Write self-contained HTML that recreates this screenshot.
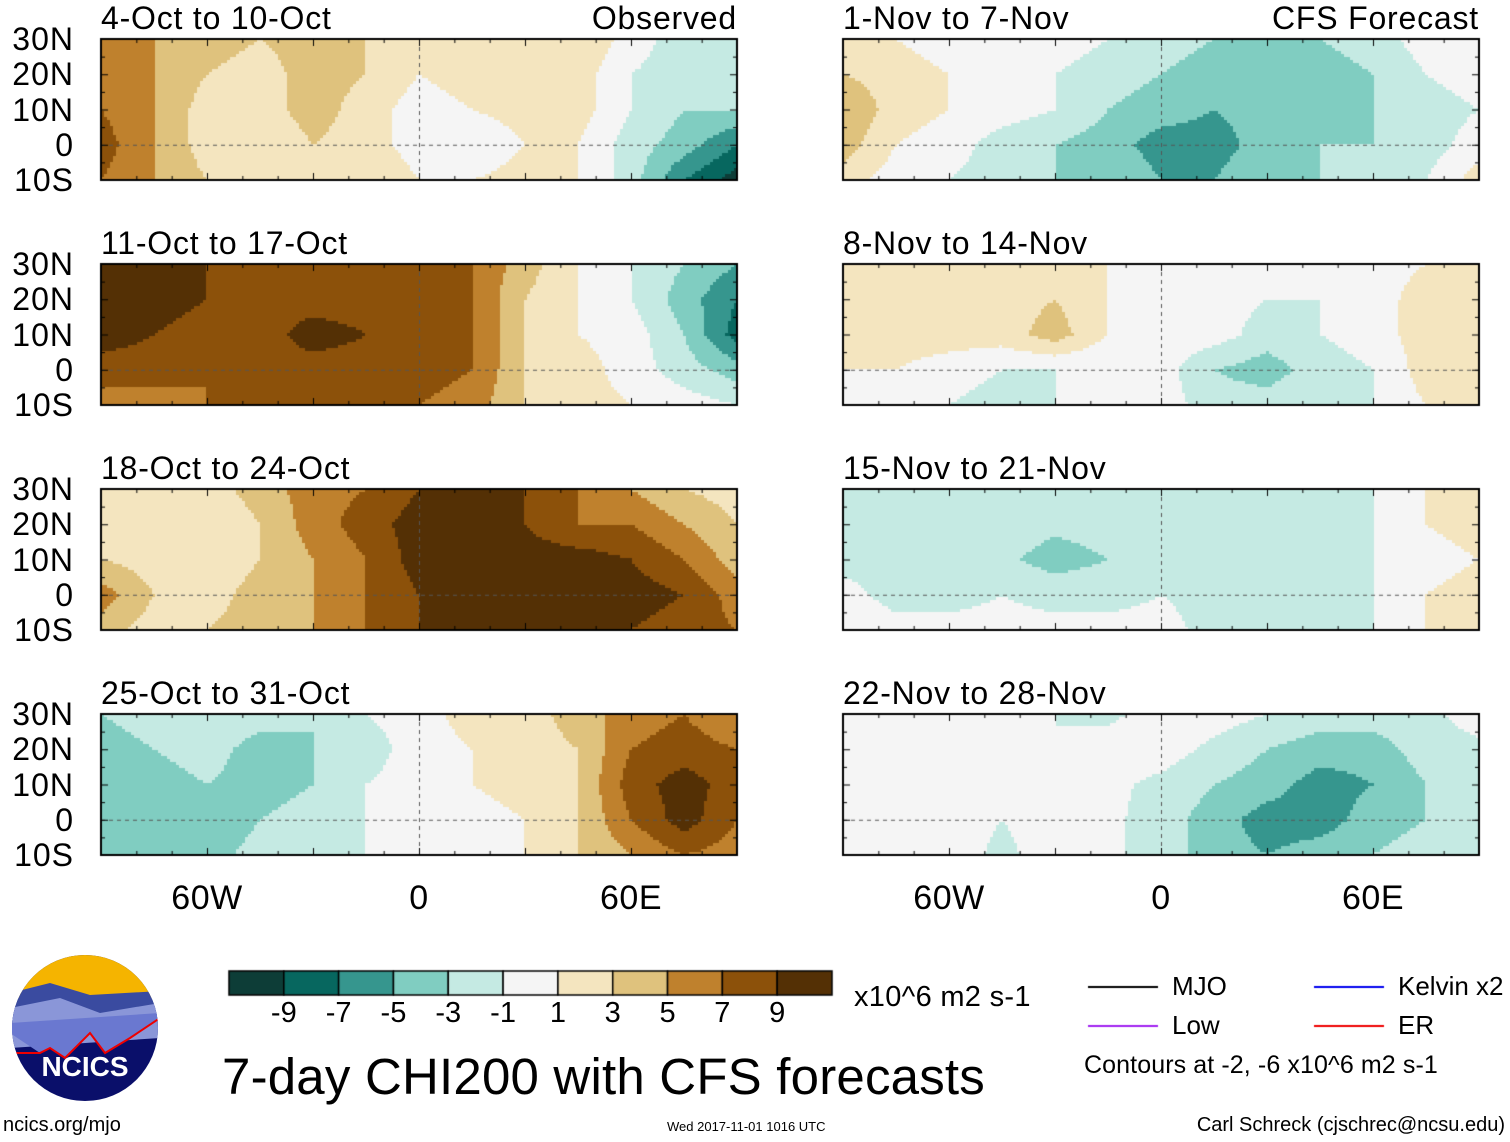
<!DOCTYPE html>
<html><head><meta charset="utf-8"><style>
body{margin:0;background:#fff;width:1510px;height:1142px;overflow:hidden;position:relative;font-family:"Liberation Sans",sans-serif}
.t{position:absolute;white-space:nowrap;color:#000;line-height:1}
canvas{position:absolute;left:0;top:0}
</style></head><body>
<canvas id="c" width="1510" height="1142"></canvas>
<div id="labels"></div>
<svg style="position:absolute;left:10px;top:953px" width="150" height="150">
<defs><clipPath id="cl"><circle cx="75" cy="75" r="73"/></clipPath></defs>
<g clip-path="url(#cl)">
<rect width="150" height="150" fill="#0a0f6a"/>
<rect width="150" height="45" fill="#f5b400"/>
<path d="M0 40 L40 30 L80 42 L150 38 L150 70 L0 80Z" fill="#3a4ba0"/>
<path d="M0 55 L50 45 L90 60 L150 50 L150 85 L0 95Z" fill="#8a96d8"/>
<path d="M0 80 L30 100 L40 95 L55 105 L80 80 L95 100 L120 85 L150 65 L150 60 L0 70Z" fill="#6a78d0"/>
<path d="M0 100 L30 100 L40 95 L55 105 L80 80 L95 100 L120 85 L150 65" fill="none" stroke="#e00" stroke-width="2"/>
</g>
<text x="75" y="123" text-anchor="middle" font-family="Liberation Sans" font-weight="bold" font-size="28" fill="#fff">NCICS</text>
</svg>
<script>
const panelTitles=["4-Oct to 10-Oct","11-Oct to 17-Oct","18-Oct to 24-Oct","25-Oct to 31-Oct","1-Nov to 7-Nov","8-Nov to 14-Nov","15-Nov to 21-Nov","22-Nov to 28-Nov"];
const lons=[-90,-75,-60,-45,-30,-15,0,15,30,45,60,75,90];
const lats=[30,20,10,0,-10];
const p1=[[5,5,4,3,4,3,1,2,3,3,0,-2,-2],[6,5,3,2,4,3,1,2,3,2,-1,-2,-3],[7,5,2,2,4,2,0,1,2,2,-1,-3,-3],[8,5,2,1,3,2,0,-1,1,1,-2,-4,-7],[7,5,3,3,3,3,1,1,2,1,-2,-7,-10]];
const p2=[[10,10,9,8,8,8,8,7,4,1,-1,-3,-5],[10,10,9,8,8,8,8,7,3,1,-1,-4,-7],[10,9,8,8,10,9,8,7,3,1,0,-3,-8],[8,8,7,8,8,8,8,7,3,2,0,-2,-4],[6,6,7,8,7,7,7,6,3,2,1,0,-1]];
const p3=[[2,3,2,4,6,7,9,9,9,7,5,3,2],[3,3,1,3,6,8,10,10,9,7,7,5,3],[3,2,1,3,5,7,10,10,10,10,9,7,4],[6,3,2,4,5,7,9,10,10,10,10,9,6],[4,2,3,4,5,7,9,10,10,10,9,8,7]];
const p4=[[-3,-2,-1,-2,-3,-1,0,2,2,4,6,7,5],[-4,-3,-2,-4,-3,-2,0,1,2,3,7,8,7],[-5,-4,-3,-4,-3,-1,0,1,2,3,8,10,8],[-5,-5,-5,-3,-2,-1,-1,0,1,3,7,10,7],[-4,-5,-4,-2,-1,-1,0,0,1,3,5,7,6]];
const p5=[[2,1,0,0,0,-1,-2,-3,-3,-3,-2,0,0],[3,2,1,0,-1,-2,-3,-4,-4,-4,-3,-1,0],[5,2,1,0,-1,-3,-4,-5,-4,-4,-3,-2,-1],[4,1,0,-2,-3,-4,-6,-6,-4,-3,-3,-2,0],[2,0,-1,-2,-3,-3,-5,-5,-3,-3,-2,-1,2]];
const p6=[[2,2,2,2,1,1,0,0,0,-1,0,1,2],[2,2,2,2,3,1,0,0,-1,-1,0,2,2],[2,2,2,2,4,1,0,0,-2,-1,0,2,2],[1,1,0,-1,-1,-1,0,-3,-4,-2,-1,2,2],[0,0,-1,-2,-1,0,0,-2,-2,-1,-1,1,1]];
const p7=[[-1,-1.5,-1,-1,-1.5,-1.5,-1.5,-1.5,-1.5,-1.5,-1,1,2],[-1.5,-1.5,-1.5,-1.5,-2.5,-2,-1.5,-1.5,-1.5,-1.5,-1,1,2],[-1.5,-1.5,-1.5,-2.5,-4,-3,-1.5,-1.5,-1.5,-1.5,-1,0,1],[-0.5,-1.5,-1.5,-1,-1.5,-1.5,-1,-1.5,-1.5,-1.5,-1,1,2],[0,-0.5,-0.5,-0.5,-0.5,-0.5,-0.5,-1.5,-1.5,-1.5,-1,1,2]];
const p8=[[0,0,0,0,-1,-1.5,0,0,-1,-2,-2,-1.5,0],[0,0,0,0,-1,0,0,-1.5,-3,-4,-4,-2,-1.5],[0,0,0,0,0,-0.5,-1.5,-3,-4,-6,-5,-3,-1.5],[0,0,0,-1,0,-0.5,-2,-4,-6,-6,-4,-3,-1.5],[0,0,0,-1.5,0,-0.5,-2,-4,-5,-4,-3,-2,-1]];
const panels=[p1,p2,p3,p4,p5,p6,p7,p8];
const cbTicks=["-9","-7","-5","-3","-1","1","3","5","7","9"];
const latLabels=["30N","20N","10N","0","10S"];
const lonLabels=["60W","0","60E"];
const colors=["#0d3d37","#07675f","#36968e","#80cdc1","#c5eae3","#f5f5f5","#f4e5bf","#dfc27d","#bf812d","#8c510a","#543005"];
const PW=636,PH=141,colX=[101,843],rowY=[39,264,489,714];
const ctx=document.getElementById('c').getContext('2d');
const L=document.getElementById('labels');
function lab(txt,x,y,fs,anchor,name,ls){const d=document.createElement('div');d.className='t';d.textContent=txt;d.style.fontSize=fs+'px';d.style.top=y+'px';if(ls)d.style.letterSpacing=ls+'px';
if(anchor==='r'){d.style.right=(1510-x)+'px';}else if(anchor==='c'){d.style.left=x+'px';d.style.transform='translateX(-50%)';}else d.style.left=x+'px';


L.appendChild(d);}
const xs=lon=>(lon+90)/180*PW, ys=lat=>(30-lat)/40*PH;
function val(g,lon,lat){let fi=(lon+90)/15,fj=(30-lat)/10;let i=Math.min(Math.floor(fi),11),j=Math.min(Math.floor(fj),3);let a=fi-i,b=fj-j;
return g[j][i]*(1-a)*(1-b)+g[j][i+1]*a*(1-b)+g[j+1][i]*(1-a)*b+g[j+1][i+1]*a*b;}
panels.forEach((g,k)=>{const ox=colX[k<4?0:1],oy=rowY[k%4];const s=3;
for(let py=0;py<PH;py+=s)for(let px=0;px<PW;px+=s){const lon=-90+(px+s/2)/PW*180,lat=30-(py+s/2)/PH*40;const v=val(g,lon,lat);
const idx=Math.max(0,Math.min(10,Math.floor((v+11)/2)));ctx.fillStyle=colors[idx];ctx.fillRect(ox+px,oy+py,s,s);}
ctx.setLineDash([4,4]);ctx.strokeStyle='#555';ctx.lineWidth=1;ctx.beginPath();
ctx.moveTo(ox,oy+ys(0)+.5);ctx.lineTo(ox+PW,oy+ys(0)+.5);ctx.moveTo(ox+xs(0)+.5,oy);ctx.lineTo(ox+xs(0)+.5,oy+PH);ctx.stroke();ctx.setLineDash([]);
ctx.strokeStyle='#000';ctx.lineWidth=2;ctx.strokeRect(ox,oy,PW,PH);ctx.lineWidth=1;ctx.beginPath();
for(let lo=-90;lo<=90;lo+=10){const x=ox+xs(lo)+.5;const len=lo%30===0?7:4;ctx.moveTo(x,oy);ctx.lineTo(x,oy+len);ctx.moveTo(x,oy+PH);ctx.lineTo(x,oy+PH-len);}
for(let la=-10;la<=30;la+=5){const y=oy+ys(la)+.5;const len=la%10===0?7:4;ctx.moveTo(ox,y);ctx.lineTo(ox+len,y);ctx.moveTo(ox+PW,y);ctx.lineTo(ox+PW-len,y);}
ctx.stroke();
lab(panelTitles[k],ox,oy-37,32,'l','panel-title-'+(k+1),0.8);
if(k<4)latLabels.forEach((t,i)=>lab(t,74,oy+ys(lats[i])-16,32,'r','lat-label',1));
});
[0,1].forEach(c=>lonLabels.forEach((t,i)=>lab(t,colX[c]+xs([-60,0,60][i]),881,34,'c','lon-label',0.5)));
lab("Observed",737,2,32,'r','observed-label',0.8);
lab("CFS Forecast",1479,2,32,'r','forecast-label',0.8);
const cbx=229,cby=971,cbw=603/11;
colors.forEach((c,i)=>{ctx.fillStyle=c;ctx.fillRect(cbx+i*cbw,cby,cbw,24);ctx.strokeStyle='#000';ctx.lineWidth=1.5;ctx.strokeRect(cbx+i*cbw,cby,cbw,24);});
cbTicks.forEach((t,i)=>lab(t,cbx+(i+1)*cbw,999,29,'c','colorbar-tick'));
lab("x10^6 m2 s-1",854,983,29,'l','colorbar-units',0.3);
lab("7-day CHI200 with CFS forecasts",222,1051,51,'l','main-title',0.2);
[[1088,987,'#000','MJO'],[1314,987,'#0000ee','Kelvin x2'],[1088,1026,'#a020f0','Low'],[1314,1026,'#ee0000','ER']].forEach(([x,y,c,t])=>{
ctx.strokeStyle=c;ctx.lineWidth=2;ctx.beginPath();ctx.moveTo(x,y);ctx.lineTo(x+70,y);ctx.stroke();lab(t,x+84,y-14,26,'l','legend-'+t.split(' ')[0].toLowerCase());});
lab("Contours at -2, -6 x10^6 m2 s-1",1084,1053,25,'l','contour-note',0.1);
lab("ncics.org/mjo",3,1115,20,'l','source-url');
lab("Wed 2017-11-01 1016 UTC",667,1120,13,'l','timestamp');
lab("Carl Schreck (cjschrec@ncsu.edu)",1505,1115,20,'r','author');
</script>
</body></html>
